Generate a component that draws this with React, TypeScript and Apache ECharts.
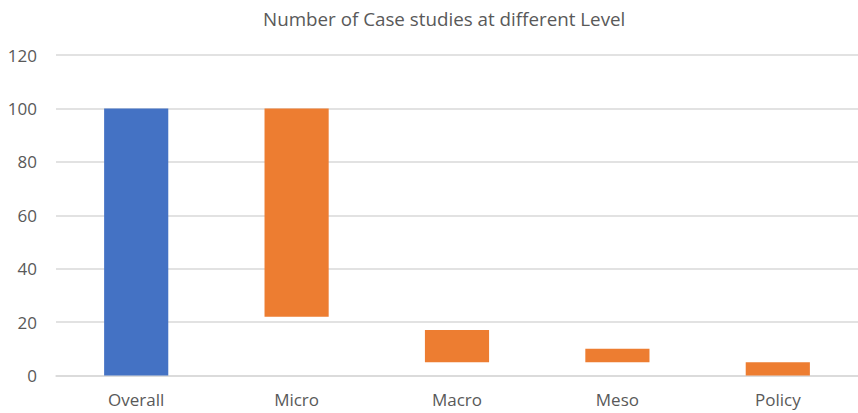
import React, { useEffect, useRef } from "react";
import * as echarts from "echarts";

const categories = ["Overall", "Micro", "Macro", "Meso", "Policy"];
// Floating bars: each bar spans from its bottom to its top value
const barTops = [100, 100, 17, 10, 5];
const barBottoms = [0, 22, 5, 5, 0];
const yTicks = [0, 20, 40, 60, 80, 100, 120];

const BLUE = "#4472C4";
const ORANGE = "#ED7D31";
const FONT = "'Open Sans', 'Noto Sans', sans-serif";

export default function App() {
  const ref = useRef<HTMLDivElement>(null);

  useEffect(() => {
    if (!ref.current) return;
    const chart = echarts.init(ref.current, null, { renderer: "svg" });
    const heights = barTops.map((t, i) => t - barBottoms[i]);
    chart.setOption({
      animation: false,
      title: {
        text: "Number of Case studies at different Level",
        left: 258,
        top: 4,
        textStyle: {
          fontFamily: FONT,
          fontSize: 18.8,
          fontWeight: "normal",
          color: "#595959",
        },
      },
      grid: { left: 56, top: 55, bottom: 37.5, width: 808 },
      xAxis: {
        type: "category",
        data: categories,
        axisTick: { show: false },
        axisLine: { lineStyle: { color: "#D9D9D9", width: 1.5 } },
        axisLabel: {
          margin: 15,
          fontFamily: FONT,
          fontSize: 17,
          color: "#595959",
        },
      },
      yAxis: {
        type: "value",
        min: yTicks[0],
        max: yTicks[yTicks.length - 1],
        interval: yTicks[1] - yTicks[0],
        axisLine: { show: false },
        axisTick: { show: false },
        splitLine: { lineStyle: { color: "#D9D9D9", width: 1.5 } },
        axisLabel: {
          margin: 19,
          fontFamily: FONT,
          fontSize: 17,
          color: "#595959",
        },
      },
      series: [
        {
          type: "bar",
          stack: "levels",
          data: barBottoms,
          barWidth: "40%",
          itemStyle: { color: "transparent" },
          silent: true,
        },
        {
          type: "bar",
          stack: "levels",
          barWidth: "40%",
          data: heights.map((h, i) => ({
            value: h,
            itemStyle: { color: i === 0 ? BLUE : ORANGE },
          })),
        },
      ],
    });
    return () => chart.dispose();
  }, []);

  return (
    <div
      ref={ref}
      style={{ position: "fixed", left: 0, top: 0, width: 858, height: 413, background: "#fff" }}
    />
  );
}
